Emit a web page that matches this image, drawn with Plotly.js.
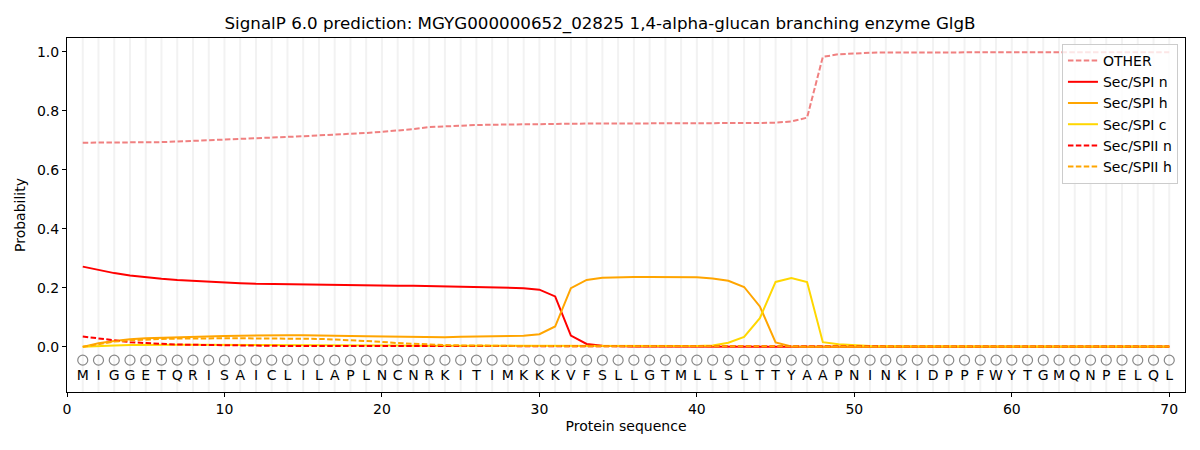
<!DOCTYPE html>
<html>
<head>
<meta charset="utf-8">
<script src="https://cdn.plot.ly/plotly-3.0.1.min.js"></script>
<style>
  body { margin: 0; background: white; }
  #plot { width: 1200px; height: 450px; }
</style>
</head>
<body>
<div id="plot"></div>
<script>
// residues of the protein, position 1..70
var residues = ["M","I","G","G","E","T","Q","R","I","S",
                "A","I","C","L","I","L","A","P","L","N",
                "C","N","R","K","I","T","I","M","K","K",
                "K","V","F","S","L","L","G","T","M","L",
                "L","S","L","T","T","Y","A","A","P","N",
                "I","N","K","I","D","P","P","F","W","Y",
                "T","G","M","Q","N","P","E","L","Q","L"];
var positions = residues.map(function(r, i){ return i + 1; });

var otherProb = [0.692,0.692,0.692,0.692,0.693,0.694,0.696,0.698,0.701,0.703,
                 0.705,0.707,0.709,0.712,0.714,0.717,0.719,0.722,0.725,0.729,
                 0.733,0.738,0.745,0.748,0.750,0.752,0.753,0.754,0.755,0.756,
                 0.757,0.757,0.757,0.757,0.757,0.758,0.758,0.758,0.758,0.758,
                 0.758,0.759,0.759,0.759,0.760,0.764,0.777,0.983,0.992,0.995,
                 0.997,0.998,0.998,0.999,0.999,0.999,0.999,0.999,0.999,0.999,
                 0.999,0.999,0.999,0.999,0.999,0.999,0.999,0.999,0.999,0.999];
var spiN = [0.272,0.261,0.250,0.242,0.236,0.231,0.227,0.224,0.220,0.218,
            0.216,0.214,0.213,0.212,0.211,0.210,0.209,0.209,0.208,0.208,
            0.207,0.207,0.206,0.205,0.204,0.203,0.202,0.201,0.199,0.194,
            0.171,0.038,0.010,0.004,0.002,0.001,0.001,0.001,0.001,0.001,
            0.001,0.001,0.001,0.001,0.001,0.001,0.001,0.000,0.000,0.000,
            0.000,0.000,0.000,0.000,0.000,0.000,0.000,0.000,0.000,0.000,
            0.000,0.000,0.000,0.000,0.000,0.000,0.000,0.000,0.000,0.000];
var spiH = [0.000,0.012,0.020,0.026,0.029,0.031,0.033,0.035,0.036,0.037,
            0.038,0.039,0.039,0.039,0.039,0.039,0.038,0.037,0.036,0.035,
            0.034,0.033,0.033,0.033,0.034,0.035,0.035,0.036,0.038,0.043,
            0.069,0.199,0.227,0.234,0.236,0.237,0.237,0.237,0.237,0.236,
            0.232,0.224,0.203,0.137,0.015,0.001,0.000,0.000,0.000,0.000,
            0.000,0.000,0.000,0.000,0.000,0.000,0.000,0.000,0.000,0.000,
            0.000,0.000,0.000,0.000,0.000,0.000,0.000,0.000,0.000,0.000];
var spiC = [0.000,0.003,0.005,0.006,0.007,0.007,0.007,0.007,0.007,0.007,
            0.007,0.007,0.007,0.007,0.006,0.006,0.006,0.006,0.005,0.005,
            0.005,0.004,0.004,0.004,0.004,0.003,0.003,0.003,0.003,0.003,
            0.002,0.002,0.002,0.002,0.002,0.002,0.002,0.002,0.002,0.003,
            0.005,0.014,0.034,0.097,0.220,0.233,0.220,0.016,0.009,0.005,
            0.003,0.002,0.002,0.001,0.001,0.001,0.001,0.001,0.001,0.001,
            0.001,0.001,0.001,0.001,0.001,0.001,0.001,0.001,0.001,0.001];
var spiiN = [0.035,0.028,0.022,0.016,0.013,0.010,0.008,0.007,0.006,0.005,
             0.004,0.004,0.003,0.003,0.003,0.003,0.002,0.002,0.002,0.002,
             0.002,0.002,0.002,0.002,0.002,0.002,0.002,0.002,0.002,0.002,
             0.001,0.001,0.001,0.001,0.001,0.001,0.001,0.001,0.001,0.001,
             0.001,0.001,0.001,0.001,0.001,0.001,0.001,0.001,0.001,0.001,
             0.001,0.001,0.001,0.001,0.001,0.001,0.001,0.001,0.001,0.001,
             0.001,0.001,0.001,0.001,0.001,0.001,0.001,0.001,0.001,0.001];
var spiiH = [0.000,0.010,0.018,0.022,0.025,0.027,0.028,0.029,0.029,0.029,
             0.029,0.029,0.029,0.028,0.028,0.027,0.025,0.023,0.020,0.017,
             0.013,0.010,0.008,0.006,0.005,0.004,0.004,0.003,0.003,0.003,
             0.002,0.002,0.002,0.002,0.002,0.002,0.002,0.002,0.002,0.002,
             0.001,0.001,0.001,0.001,0.001,0.001,0.001,0.001,0.001,0.001,
             0.001,0.001,0.001,0.001,0.001,0.001,0.001,0.001,0.001,0.001,
             0.001,0.001,0.001,0.001,0.001,0.001,0.001,0.001,0.001,0.001];

var font = "DejaVu Sans, sans-serif";
var dashed = "5.5px,2.4px";

function line(y, name, color, dash){
    return {
        type: "scatter",
        mode: "lines",
        x: positions,
        y: y,
        name: name,
        line: {color: color, width: 2, dash: dash || "solid"}
    };
}

var traces = [
    line(otherProb, "OTHER", "#F08080", dashed),
    line(spiN, "Sec/SPI n", "#FF0000"),
    line(spiH, "Sec/SPI h", "#FFA500"),
    line(spiC, "Sec/SPI c", "#FFD700"),
    line(spiiN, "Sec/SPII n", "#FF0000", dashed),
    line(spiiH, "Sec/SPII h", "#FFA500", dashed),
    {
        type: "scatter",
        mode: "markers",
        x: positions,
        y: positions.map(function(){ return -0.045; }),
        marker: {symbol: "circle-open", size: 10, color: "#888888", line: {width: 1.2}},
        showlegend: false,
        hoverinfo: "skip"
    },
    {
        type: "scatter",
        mode: "text",
        x: positions,
        y: positions.map(function(){ return -0.1; }),
        text: residues,
        textfont: {family: font, size: 14, color: "black"},
        showlegend: false,
        hoverinfo: "skip"
    }
];

var layout = {
    width: 1200,
    height: 450,
    paper_bgcolor: "white",
    plot_bgcolor: "white",
    font: {family: font, size: 14, color: "black"},
    margin: {l: 67, r: 15, t: 38, b: 58},
    title: {
        text: "SignalP 6.0 prediction: MGYG000000652_02825 1,4-alpha-glucan branching enzyme GlgB",
        font: {family: font, size: 16.7, color: "black"},
        x: 0.5, xanchor: "center",
        y: 0.949, yref: "container", yanchor: "middle"
    },
    xaxis: {
        range: [0, 71],
        tickvals: [0, 10, 20, 30, 40, 50, 60, 70],
        showgrid: false,
        zeroline: false,
        showline: true, mirror: true, linecolor: "black", linewidth: 1,
        ticks: "outside", ticklen: 4, tickcolor: "black",
        tickfont: {size: 14},
        title: {text: "Protein sequence", font: {size: 14}, standoff: 5}
    },
    yaxis: {
        range: [-0.153, 1.047],
        tickvals: [0, 0.2, 0.4, 0.6, 0.8, 1.0],
        tickformat: ".1f",
        showgrid: false,
        zeroline: false,
        showline: true, mirror: true, linecolor: "black", linewidth: 1,
        ticks: "outside", ticklen: 4, tickcolor: "black",
        tickfont: {size: 14},
        title: {text: "Probability", font: {size: 14}, standoff: 8}
    },
    legend: {
        x: 0.9937, xanchor: "right",
        y: 0.983, yanchor: "top",
        bgcolor: "rgba(255,255,255,0.8)",
        bordercolor: "#cccccc",
        borderwidth: 1,
        font: {size: 14},
        tracegroupgap: 0
    },
    shapes: []
};

// light vertical guide at every residue
for (var i = 0; i < positions.length; i++){
    layout.shapes.push({
        type: "line",
        xref: "x", yref: "paper",
        x0: positions[i], x1: positions[i],
        y0: 0, y1: 1,
        layer: "below",
        line: {color: "#f2f2f2", width: 2}
    });
}

Plotly.newPlot("plot", traces, layout, {displayModeBar: false});
</script>
</body>
</html>
